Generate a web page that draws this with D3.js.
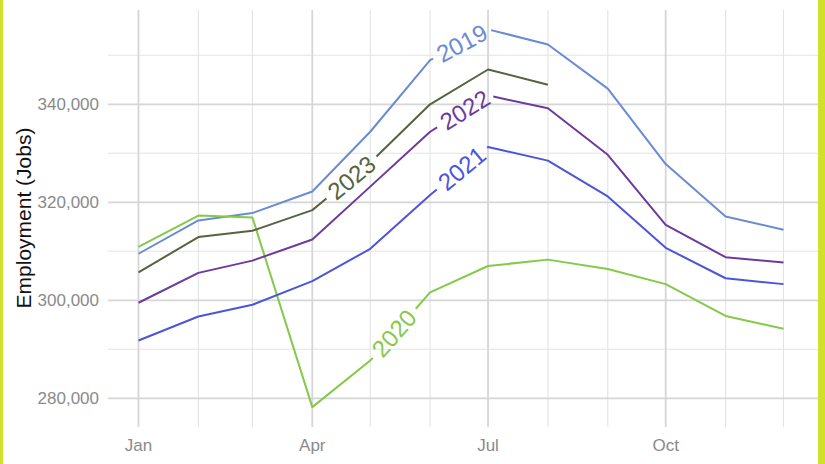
<!DOCTYPE html>
<html><head><meta charset="utf-8">
<script src="https://cdn.jsdelivr.net/npm/d3@7"></script>
<style>
body{margin:0;background:#fff}
svg{display:block}
text{font-family:"Liberation Sans",Arial,Helvetica,sans-serif}
</style>
</head><body>
<svg id="chart" width="825" height="464"></svg>
<script>
// ---- data ----
const months = ["Jan","Feb","Mar","Apr","May","Jun","Jul","Aug","Sep","Oct","Nov","Dec"];
const years = ["2019","2020","2021","2022","2023"];
const jobs2019 = [309500,316300,317800,322200,334400,349000,355300,352200,343200,327800,317100,314400];
const jobs2020 = [310900,317300,316900,278200,287700,301600,307000,308300,306400,303300,296800,294200];
const jobs2021 = [291800,296700,299100,303900,310500,321500,331300,328500,321200,310700,304500,303300];
const jobs2022 = [299500,305600,308100,312400,323200,334400,341800,339200,329700,315400,308800,307700];
const jobs2023 = [305700,312900,314200,318400,328100,340000,347100,344000];
const xTickLabels = ["Jan","Apr","Jul","Oct"];
const yMajorTicks = [280000,300000,320000,340000];
const yMinorTicks = [290000,310000,330000,350000];
const yTitle = "Employment (Jobs)";

const seriesValues = {"2019":jobs2019,"2020":jobs2020,"2021":jobs2021,"2022":jobs2022,"2023":jobs2023};
const colors = {"2019":"#6a8bd4","2020":"#84c94a","2021":"#4b55da","2022":"#6c3a9c","2023":"#56633f"};
// fractional month index at which each curve label sits
const labelAt = {"2019":5.55,"2020":4.4,"2021":5.55,"2022":5.6,"2023":3.68};

// ---- layout ----
const svg = d3.select("#chart");
const panel = {l:108, r:818, t:10, b:427};
const dateOf = i => new Date(Date.UTC(2021, i, 1));
const x = d3.scaleUtc().domain([dateOf(0), dateOf(11)]).range([138.5, 783.5]);
const y = d3.scaleLinear().domain([280000, 340000]).range([398.3, 104.3]);

svg.append("rect").attr("width",825).attr("height",464).attr("fill","#fff");

// grid
const g = svg.append("g");
g.selectAll("line.hmin").data(yMinorTicks).join("line")
  .attr("x1",panel.l).attr("x2",panel.r).attr("y1",d=>y(d)).attr("y2",d=>y(d))
  .attr("stroke","#e3e3e3").attr("stroke-width",1.1);
const monthDates = months.map((m,i)=>dateOf(i));
const majorMonths = new Set(xTickLabels);
g.selectAll("line.v").data(monthDates).join("line")
  .attr("x1",d=>x(d)).attr("x2",d=>x(d)).attr("y1",panel.t).attr("y2",panel.b)
  .attr("stroke",(d,i)=>majorMonths.has(months[i])?"#d6d6d6":"#e3e3e3")
  .attr("stroke-width",(d,i)=>majorMonths.has(months[i])?1.8:1.1);
g.selectAll("line.hmaj").data(yMajorTicks).join("line")
  .attr("x1",panel.l).attr("x2",panel.r).attr("y1",d=>y(d)).attr("y2",d=>y(d))
  .attr("stroke","#d6d6d6").attr("stroke-width",1.8);

// axes labels
const fmt = d3.format(",");
svg.append("g").selectAll("text").data(yMajorTicks).join("text")
  .attr("x",99).attr("y",d=>y(d)).attr("dy","0.36em")
  .attr("text-anchor","end").attr("font-size",17).attr("fill","#8a8a8a")
  .text(d=>fmt(d));
svg.append("g").selectAll("text").data(xTickLabels).join("text")
  .attr("x",d=>x(dateOf(months.indexOf(d)))).attr("y",450.5)
  .attr("text-anchor","middle").attr("font-size",17).attr("fill","#8a8a8a")
  .text(d=>d);
svg.append("text").attr("transform","translate(31,218) rotate(-90)")
  .attr("text-anchor","middle").attr("font-size",21).attr("fill","#111")
  .text(yTitle);

// series with inline labels
const lineGen = d3.line().x(d=>d[0]).y(d=>d[1]);
function subPath(pts, cum, s1, s2){
  const out=[];
  const at = s => {
    for(let i=0;i<pts.length-1;i++){
      if(s<=cum[i+1]){const t=(s-cum[i])/(cum[i+1]-cum[i]);return [pts[i][0]+t*(pts[i+1][0]-pts[i][0]), pts[i][1]+t*(pts[i+1][1]-pts[i][1])];}
    }
    return pts[pts.length-1];
  };
  if(s2<=s1) return out;
  out.push(at(s1));
  for(let i=0;i<pts.length;i++){ if(cum[i]>s1 && cum[i]<s2) out.push(pts[i]); }
  out.push(at(s2));
  return out;
}
const lg = svg.append("g");
years.forEach((yr,k)=>{
  const vals = seriesValues[yr];
  const pts = vals.map((v,i)=>[x(dateOf(i)), y(v)]);
  const cum=[0];
  for(let i=1;i<pts.length;i++) cum.push(cum[i-1]+Math.hypot(pts[i][0]-pts[i-1][0], pts[i][1]-pts[i-1][1]));
  const li = Math.floor(labelAt[yr]), lf = labelAt[yr]-li;
  const s0 = cum[li] + lf*(cum[li+1]-cum[li]);
  const tmp = lg.append("text").attr("font-size",24).text(yr);
  const w = tmp.node().getComputedTextLength(); tmp.remove();
  const half = w/2 + 6;
  const col = colors[yr];
  [subPath(pts,cum,0,s0-half), subPath(pts,cum,s0+half,cum[cum.length-1])].forEach(p=>{
    if(p.length>1) lg.append("path").attr("d",lineGen(p)).attr("fill","none")
      .attr("stroke",col).attr("stroke-width",2).attr("stroke-linejoin","round");
  });
  const pid = "lp"+yr;
  lg.append("path").attr("id",pid).attr("d",lineGen(pts)).attr("fill","none").attr("stroke","none");
  lg.append("text").attr("font-size",24).attr("fill",col).attr("dy","0.35em")
    .append("textPath").attr("href","#"+pid).attr("startOffset",s0).attr("text-anchor","middle").text(yr);
});

// side borders
svg.append("rect").attr("x",0).attr("y",0).attr("width",3).attr("height",464).attr("fill","#cfe12c");
svg.append("rect").attr("x",818).attr("y",0).attr("width",7).attr("height",464).attr("fill","#cfe12c");
</script>
</body></html>
